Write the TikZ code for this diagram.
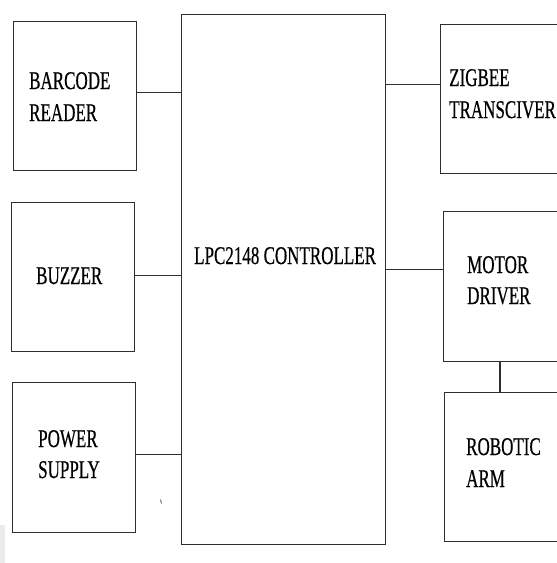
\documentclass[tikz,border=0pt]{standalone}
\usepackage{fontspec}
\setmainfont{Liberation Serif}
\newfontfamily\tms{Liberation Serif}
\usepackage{graphicx}
\newcommand{\tall}[1]{\scalebox{1}[1.5]{\special{pdf:literal direct 2 Tr 0.1 w}#1\special{pdf:literal direct 0 Tr}}}
\tikzset{
  blk/.style={draw=black!82, line width=1.2pt, rectangle, inner sep=0pt, anchor=north west},
  lbl/.style={anchor=base west, inner sep=0pt, font=\tms\fontsize{17}{17}\selectfont, text=black},
  wire/.style={draw=black!82, line width=1.2pt}
}
\begin{document}
\begin{tikzpicture}[x=1pt,y=-1pt]
\useasboundingbox (0,0) rectangle (557,563);
\clip (0,0) rectangle (557,563);
\fill[white] (0,0) rectangle (557,563);
\fill[black!8] (0,525) rectangle (5,563);
% boxes
\node[blk, minimum width=123pt, minimum height=149pt] (barcode) at (13,21) {};
\node[blk, minimum width=123pt, minimum height=149pt] (buzzer) at (11,202) {};
\node[blk, minimum width=123pt, minimum height=150pt] (power) at (12,382) {};
\node[blk, minimum width=204pt, minimum height=530pt] (ctrl) at (181,14) {};
\node[blk, minimum width=140pt, minimum height=149pt] (zigbee) at (440,24) {};
\node[blk, minimum width=140pt, minimum height=150pt] (motor) at (443,211) {};
\node[blk, minimum width=140pt, minimum height=149pt] (robot) at (444,392) {};
% labels
\node[lbl] (t1) at (29,89) {\tall{BARCODE}};
\node[lbl] (t2) at (29,121) {\tall{READER}};
\node[lbl] (t3) at (36,284) {\tall{BUZZER}};
\node[lbl] (t4) at (38,447) {\tall{POWER}};
\node[lbl] (t5) at (38,478) {\tall{SUPPLY}};
\node[lbl] (t6) at (194,264) {\tall{LPC2148 CONTROLLER}};
\node[lbl] (t7) at (449,86) {\tall{ZIGBEE}};
\node[lbl] (t8) at (449,118) {\tall{TRANSCIVER}};
\node[lbl] (t9) at (467,273) {\tall{MOTOR}};
\node[lbl] (t10) at (467,304) {\tall{DRIVER}};
\node[lbl] (t11) at (466,455) {\tall{ROBOTIC}};
\node[lbl] (t12) at (466,487) {\tall{ARM}};
% connectors
\draw[wire] ([yshift=3.5pt]barcode.east) -- ([yshift=3.5pt]barcode.east -| ctrl.west);
\draw[wire] ([yshift=1.5pt]buzzer.east) -- ([yshift=1.5pt]buzzer.east -| ctrl.west);
\draw[wire] ([yshift=3pt]power.east) -- ([yshift=3pt]power.east -| ctrl.west);
\draw[wire] ([yshift=14.5pt]zigbee.west) -- ([yshift=14.5pt]zigbee.west -| ctrl.east);
\draw[wire] ([yshift=17pt]motor.west) -- ([yshift=17pt]motor.west -| ctrl.east);
\draw[wire] ([xshift=57pt]motor.south west) -- ([xshift=56pt]robot.north west);
% stray mark
\coordinate (m1) at (160.5,499.5);
\coordinate (m2) at (161.5,503.5);
\draw[black!60, line width=0.9pt] (m1) -- (m2);
\end{tikzpicture}
\end{document}
